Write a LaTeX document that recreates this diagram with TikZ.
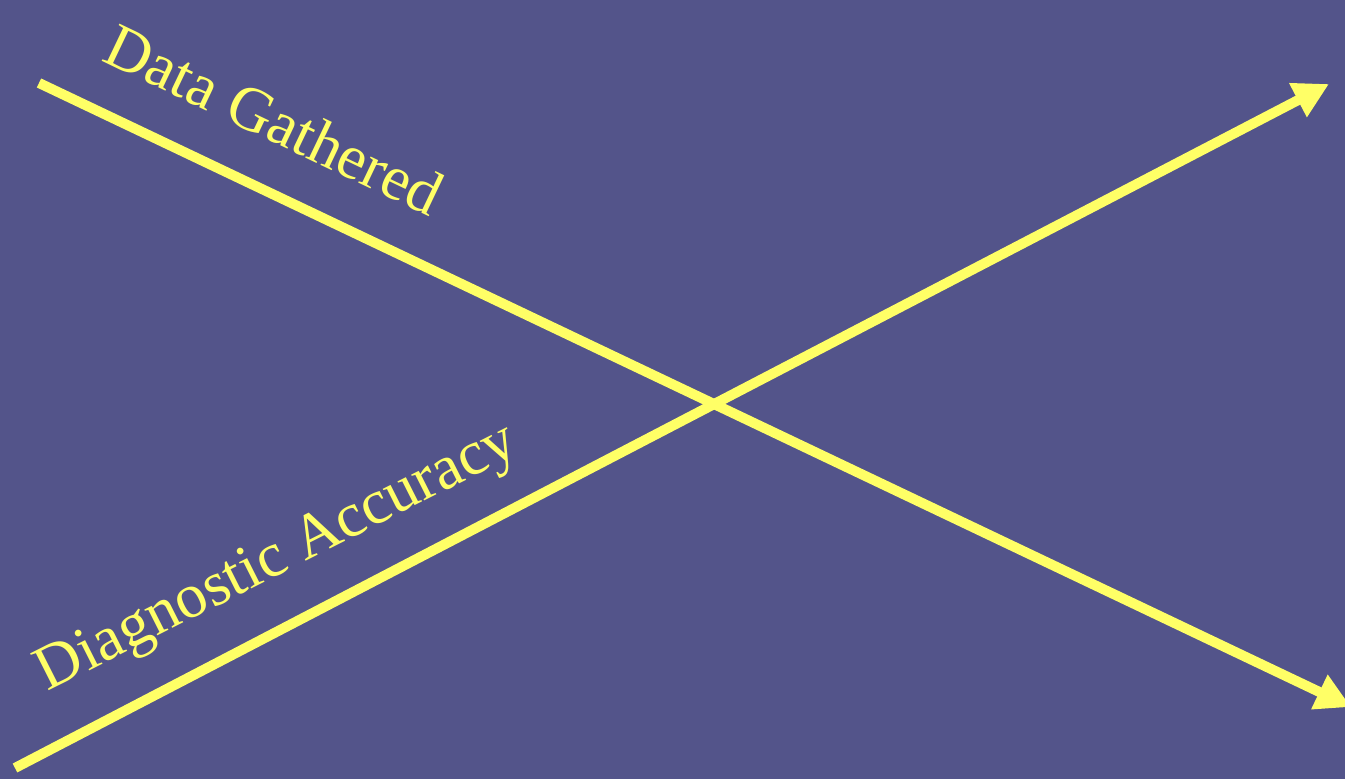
\documentclass[tikz,border=0pt]{standalone}
\usepackage{fontspec}
\setmainfont{Liberation Serif}
\usetikzlibrary{arrows.meta}
\definecolor{bgblue}{RGB}{83,84,138}
\definecolor{ayellow}{RGB}{255,255,102}
\begin{document}
\begin{tikzpicture}[x=0.01cm,y=-0.01cm,
  axis/.style={draw=ayellow,line width=0.1cm,-{Triangle[length=0.35cm,width=0.36cm]}},
  lbl/.style={text=ayellow,font=\fontsize{17.9}{21}\selectfont,anchor=base west,inner sep=0pt}]
\fill[bgblue] (0,0) rectangle (1345,779);
\useasboundingbox (0,0) rectangle (1345,779);
\clip (0,0) rectangle (1345,779);
\coordinate (dgs) at (39,83);
\coordinate (dge) at (1351,707);
\coordinate (das) at (15,768);
\coordinate (dae) at (1329,84);
\draw[axis] (dgs) -- (dge);
\draw[axis] (das) -- (dae);
\node[lbl,rotate=-25.5] (dg) at (100,60) {Data Gathered};
\node[lbl,rotate=26.8] (da) at (47,692) {Diagnostic Accuracy};
\end{tikzpicture}
\end{document}
